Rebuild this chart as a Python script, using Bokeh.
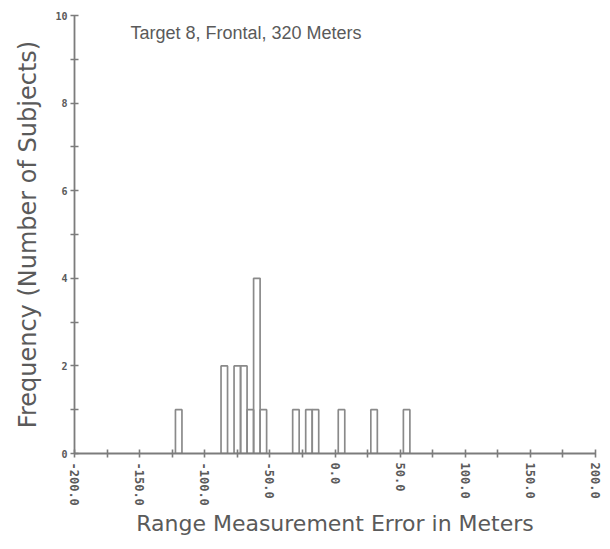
from bokeh.plotting import figure
from bokeh.models import Range1d, FixedTicker, Label, ColumnDataSource
from bokeh.embed import file_html
from bokeh.resources import INLINE

# Histogram data (bin width 5 m)
bin_centers = [-120, -85, -75, -70, -65, -60, -55, -30, -20, -15, 5, 30, 55]
counts = [1, 2, 2, 2, 1, 4, 1, 1, 1, 1, 1, 1, 1]
bin_width = 5

x_major = [-200, -150, -100, -50, 0, 50, 100, 150, 200]
x_minor = [-175, -125, -75, -25, 25, 75, 125, 175]
x_labels = {v: f"{v:.1f}" for v in x_major}
y_major = [0, 2, 4, 6, 8, 10]
y_minor = [1, 3, 5, 7, 9]

title_text = "Target 8, Frontal, 320 Meters"
x_title = "Range Measurement Error in Meters"
y_title = "Frequency (Number of Subjects)"

gray = "#7c7c7c"
text_gray = "#5a5a5a"

src = ColumnDataSource(dict(
    left=[c - bin_width / 2 for c in bin_centers],
    right=[c + bin_width / 2 for c in bin_centers],
    top=counts,
    bottom=[0] * len(counts),
))

p = figure(width=610, height=549, output_backend="svg", toolbar_location=None,
           x_range=Range1d(-200, 200), y_range=Range1d(0, 10),
           min_border_left=74, min_border_right=15, min_border_top=15,
           min_border_bottom=96)
p.outline_line_color = None
p.grid.visible = False
p.background_fill_color = "white"
p.border_fill_color = "white"

p.quad(left="left", right="right", top="top", bottom="bottom", source=src,
       fill_color="white", fill_alpha=0.0, line_color="#8a8a8a", line_width=1.7)

for ax in (p.xaxis[0], p.yaxis[0]):
    ax.axis_line_color = gray
    ax.axis_line_width = 1.8
    ax.major_tick_line_color = gray
    ax.minor_tick_line_color = gray
    ax.major_tick_line_width = 1.6
    ax.minor_tick_line_width = 1.6
    ax.major_tick_in = 4
    ax.major_tick_out = 4
    ax.minor_tick_in = 4
    ax.minor_tick_out = 4
    ax.major_label_text_color = text_gray
    ax.major_label_text_font = "DejaVu Sans Mono"
    ax.major_label_text_font_style = "bold"
    ax.axis_label_text_color = text_gray
    ax.axis_label_text_font = "DejaVu Sans"
    ax.axis_label_text_font_style = "normal"

p.xaxis.ticker = FixedTicker(ticks=x_major, minor_ticks=x_minor)
p.xaxis.major_label_overrides = x_labels
p.xaxis.major_label_orientation = "vertical"
p.xaxis.major_label_text_font_size = "12px"
p.xaxis.major_label_standoff = 5
p.xaxis.axis_label = x_title
p.xaxis.axis_label_text_font_size = "22px"
p.xaxis.axis_label_standoff = 2

p.yaxis.ticker = FixedTicker(ticks=y_major, minor_ticks=y_minor)
p.yaxis.major_label_text_font_size = "10px"
p.yaxis.major_label_standoff = 3
p.yaxis.axis_label = y_title
p.yaxis.axis_label_text_font_size = "24px"
p.yaxis.axis_label_standoff = 10

p.add_layout(Label(x=-157, y=9.83, text=title_text, text_baseline="top",
                   text_font="Liberation Sans", text_font_size="18px",
                   text_color=text_gray))

open("out.html", "w").write(file_html(p, INLINE))
